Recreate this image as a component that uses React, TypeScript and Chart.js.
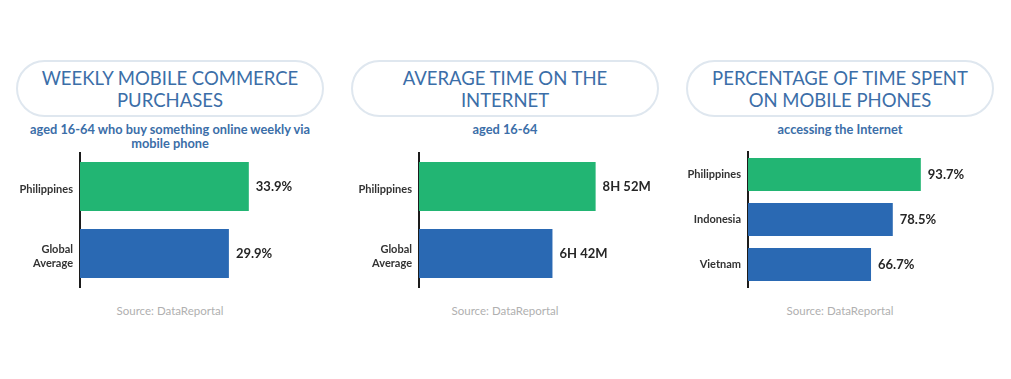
import React, { useEffect, useRef } from "react";
import { Chart, registerables } from "chart.js";

Chart.register(...registerables);

// ---- Data ----
const commerceCategories = ["Philippines", ["Global", "Average"]];
const commerceValues = [33.9, 29.9];

const timeCategories = ["Philippines", ["Global", "Average"]];
const timeMinutes = [532, 402]; // 8H 52M, 6H 42M

const mobileCategories = ["Philippines", "Indonesia", "Vietnam"];
const mobileValues = [93.7, 78.5, 66.7];

const GREEN = "#22b573";
const BLUE = "#2a69b3";
const TITLE_BLUE = "#3b6ea8";

const pctFmt = (v: number) => `${v}%`;
const timeFmt = (v: number) => `${Math.floor(v / 60)}H ${v % 60}M`;

const valueLabelPlugin = {
  id: "valueLabels",
  afterDatasetsDraw(chart: any, _args: any, opts: any) {
    const ctx = chart.ctx;
    const meta = chart.getDatasetMeta(0);
    const data = chart.data.datasets[0].data;
    ctx.save();
    ctx.font = "bold 13px Lato";
    ctx.fillStyle = "#262626";
    ctx.textAlign = "left";
    ctx.textBaseline = "middle";
    meta.data.forEach((bar: any, i: number) => {
      ctx.fillText(opts.fmt(data[i]), bar.x + 7, bar.y);
    });
    ctx.restore();
  },
};

type PanelProps = {
  left: number;
  categories: any[];
  values: number[];
  colors: string[];
  max: number;
  fmt: (v: number) => string;
  padTop: number;
  labelOffset: number;
};

function BarPanel({ left, categories, values, colors, max, fmt, padTop, labelOffset }: PanelProps) {
  const ref = useRef<HTMLCanvasElement>(null);
  useEffect(() => {
    if (!ref.current) return;
    const chart = new Chart(ref.current, {
      type: "bar",
      data: {
        labels: categories,
        datasets: [
          {
            data: values,
            backgroundColor: colors,
            barPercentage: 0.733,
            categoryPercentage: 1,
          },
        ],
      },
      options: {
        indexAxis: "y",
        animation: false,
        responsive: false,
        maintainAspectRatio: false,
        layout: { padding: { left: 0, right: 11, top: padTop, bottom: 3 } },
        plugins: {
          legend: { display: false },
          tooltip: { enabled: false },
          valueLabels: { fmt },
        } as any,
        scales: {
          x: { display: false, min: 0, max },
          y: {
            grid: { display: false, drawTicks: false },
            border: { display: true, color: "#1c1c1c", width: 2 },
            ticks: {
              color: "#333",
              font: { family: "Lato", weight: "bold", size: 11 },
              padding: 7,
              labelOffset,
            },
            afterFit: (scale: any) => {
              scale.width = 80;
              scale.paddingTop = 0;
              scale.paddingBottom = 0;
            },
          },
        },
      } as any,
      plugins: [valueLabelPlugin],
    });
    return () => chart.destroy();
  }, []);
  return (
    <canvas
      ref={ref}
      width={340}
      height={140}
      style={{ position: "absolute", left, top: 150, width: 340, height: 140 }}
    />
  );
}

function Header({ center, title, subtitle }: { center: number; title: string[]; subtitle: string[] }) {
  return (
    <>
      <div
        style={{
          position: "absolute",
          left: center - 154,
          top: 60,
          width: 308,
          height: 57,
          boxSizing: "border-box",
          border: "2px solid #dfe7ef",
          borderRadius: 30,
          display: "flex",
          flexDirection: "column",
          justifyContent: "center",
          alignItems: "center",
          color: TITLE_BLUE,
          fontFamily: "Lato",
          fontSize: 18.5,
          lineHeight: "22px",
          textAlign: "center",
        }}
      >
        {title.map((t, i) => (
          <div key={i}>{t}</div>
        ))}
      </div>
      <div
        style={{
          position: "absolute",
          left: center - 160,
          top: 122,
          width: 320,
          color: TITLE_BLUE,
          fontFamily: "Lato",
          fontWeight: "bold",
          fontSize: 12.8,
          lineHeight: "14px",
          textAlign: "center",
        }}
      >
        {subtitle.map((t, i) => (
          <div key={i}>{t}</div>
        ))}
      </div>
      <div
        style={{
          position: "absolute",
          left: center - 100,
          top: 304,
          width: 200,
          color: "#b0b0b0",
          fontFamily: "Lato",
          fontSize: 11.5,
          lineHeight: "14px",
          textAlign: "center",
        }}
      >
        Source: DataReportal
      </div>
    </>
  );
}

export default function App() {
  return (
    <div
      style={{
        position: "absolute",
        left: 0,
        top: 0,
        width: 1011,
        height: 379,
        background: "#fff",
        overflow: "hidden",
      }}
    >
      <Header
        center={170}
        title={["WEEKLY MOBILE COMMERCE", "PURCHASES"]}
        subtitle={["aged 16-64 who buy something online weekly via", "mobile phone"]}
      />
      <Header center={505} title={["AVERAGE TIME ON THE", "INTERNET"]} subtitle={["aged 16-64"]} />
      <Header
        center={840}
        title={["PERCENTAGE OF TIME SPENT", "ON MOBILE PHONES"]}
        subtitle={["accessing the Internet"]}
      />
      <BarPanel
        left={0}
        categories={commerceCategories}
        values={commerceValues}
        colors={[GREEN, BLUE]}
        max={50}
        fmt={pctFmt}
        padTop={3}
        labelOffset={3}
      />
      <BarPanel
        left={339}
        categories={timeCategories}
        values={timeMinutes}
        colors={[GREEN, BLUE]}
        max={750}
        fmt={timeFmt}
        padTop={3}
        labelOffset={3}
      />
      <BarPanel
        left={668}
        categories={mobileCategories}
        values={mobileValues}
        colors={[GREEN, BLUE, BLUE]}
        max={135}
        fmt={pctFmt}
        padTop={2}
        labelOffset={0}
      />
    </div>
  );
}
